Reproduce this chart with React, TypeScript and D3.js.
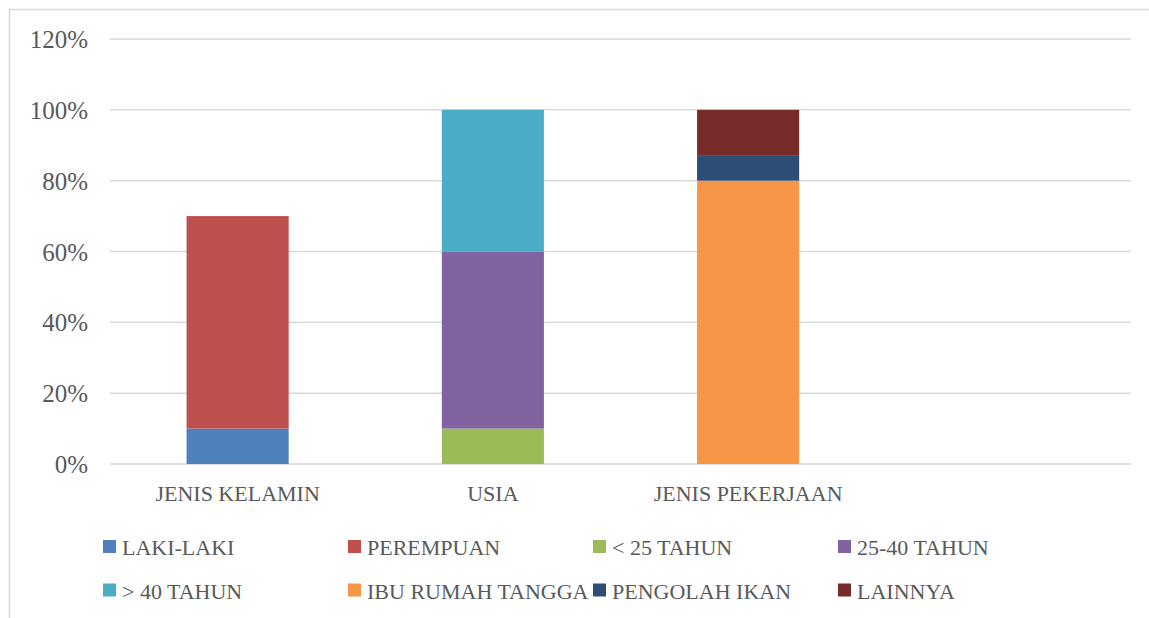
import * as d3 from "d3";

const categories = ["JENIS KELAMIN", "USIA", "JENIS PEKERJAAN", ""];
const seriesNames = [
  "LAKI-LAKI",
  "PEREMPUAN",
  "< 25 TAHUN",
  "25-40 TAHUN",
  "> 40 TAHUN",
  "IBU RUMAH TANGGA",
  "PENGOLAH IKAN",
  "LAINNYA",
];
const seriesColors = ["#4f81bd", "#c0504d", "#9bbb59", "#8064a2", "#4bacc6", "#f79646", "#2c4d75", "#772c2a"];
// values per category (same order as categories)
const seriesValues = [
  [0.1, 0, 0, 0],
  [0.6, 0, 0, 0],
  [0, 0.1, 0, 0],
  [0, 0.5, 0, 0],
  [0, 0.4, 0, 0],
  [0, 0, 0.8, 0],
  [0, 0, 0.07, 0],
  [0, 0, 0.13, 0],
];
const yTicks = [0, 0.2, 0.4, 0.6, 0.8, 1.0, 1.2];

const W = 1149;
const H = 618;
const FONT = "'Liberation Serif', serif";
const TEXT = "#595959";

export default function App() {
  const x = d3.scaleBand<string>().domain(categories).range([110, 1131]).paddingInner(0.6).paddingOuter(0.3);
  const y = d3.scaleLinear().domain([0, 1.2]).range([464, 39]);

  const rows = categories.map((c, ci) => {
    const r: Record<string, number | string> = { cat: c };
    seriesNames.forEach((s, si) => (r[s] = seriesValues[si][ci]));
    return r;
  });
  const stacked = d3.stack<Record<string, number | string>>().keys(seriesNames)(rows as any);

  return (
    <svg width={W} height={H} style={{ position: "absolute", left: 0, top: 0, background: "#fff" }}>
      <rect x={9.5} y={9.5} width={W + 20} height={H + 20} fill="#fff" stroke="#d9d9d9" strokeWidth={1.5} />
      {yTicks.map((t) => (
        <g key={t}>
          <line x1={110} x2={1131} y1={y(t)} y2={y(t)} stroke="#d9d9d9" strokeWidth={1.5} />
          <text x={88} y={y(t) + 9} textAnchor="end" fontFamily={FONT} fontSize={25} fill={TEXT}>
            {d3.format(".0%")(t)}
          </text>
        </g>
      ))}
      {stacked.map((layer, si) =>
        layer.map((d, ci) =>
          d[1] - d[0] > 0 ? (
            <rect
              key={`${si}-${ci}`}
              x={x(categories[ci])}
              width={x.bandwidth()}
              y={y(d[1])}
              height={y(d[0]) - y(d[1])}
              fill={seriesColors[si]}
            />
          ) : null
        )
      )}
      {categories.map((c) => (
        <text
          key={c}
          x={(x(c) ?? 0) + x.bandwidth() / 2}
          y={501}
          textAnchor="middle"
          fontFamily={FONT}
          fontSize={22}
          fill={TEXT}
        >
          {c}
        </text>
      ))}
      {seriesNames.map((s, i) => {
        const col = i % 4;
        const row = Math.floor(i / 4);
        const lx = 103 + col * 245;
        const ly = 540 + row * 43.5;
        return (
          <g key={s}>
            <rect x={lx} y={ly} width={13} height={13} fill={seriesColors[i]} />
            <text x={lx + 19} y={ly + 15} fontFamily={FONT} fontSize={22} fill={TEXT}>
              {s}
            </text>
          </g>
        );
      })}
    </svg>
  );
}
